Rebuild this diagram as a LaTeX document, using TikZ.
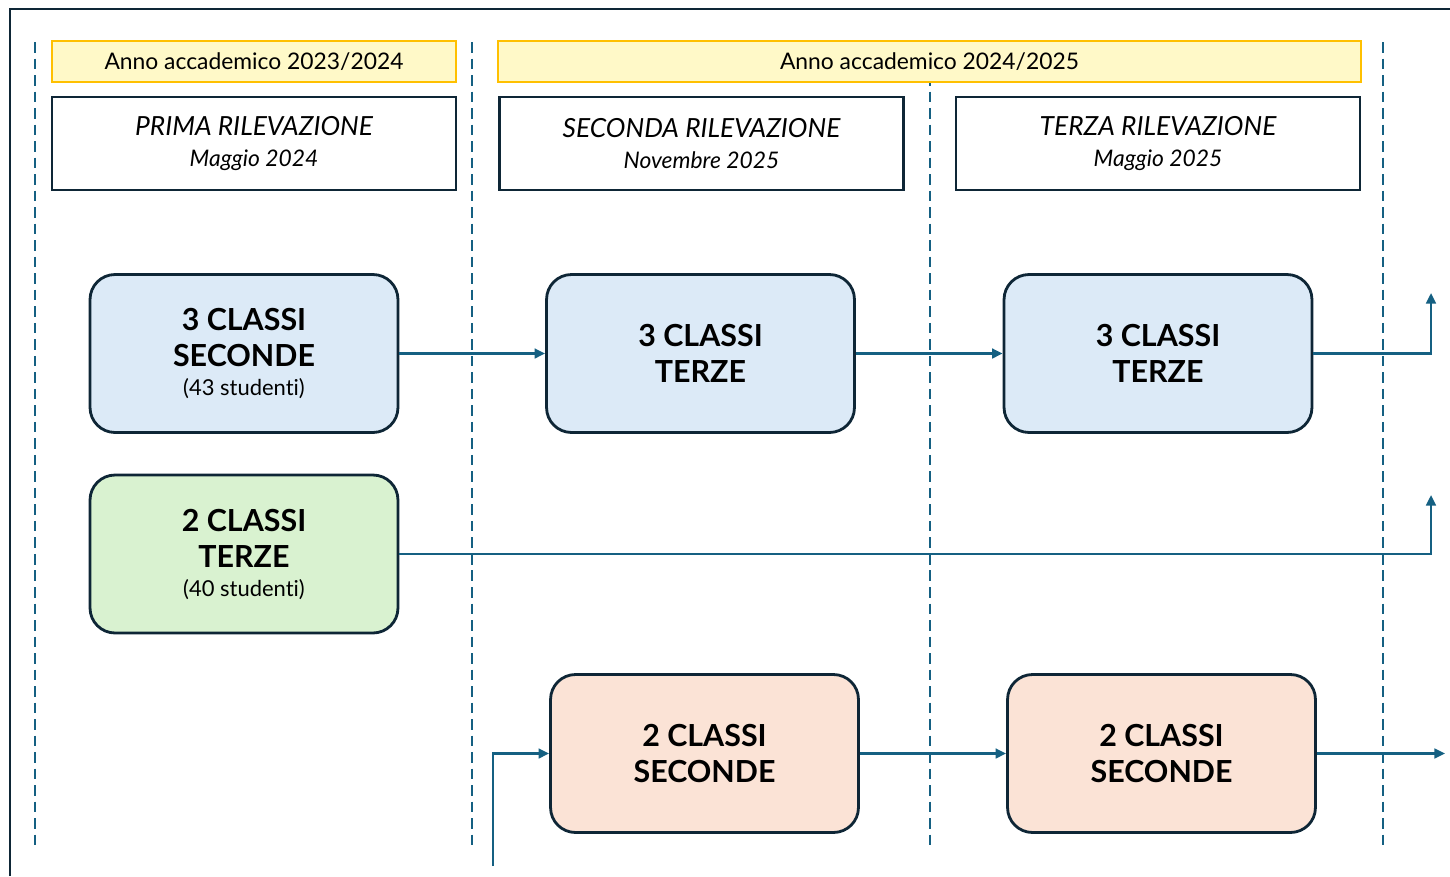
\documentclass[tikz,border=0pt]{standalone}
\usepackage{fontspec}
\setmainfont{Lato}[Ligatures=NoCommon]
\usetikzlibrary{arrows.meta}
\definecolor{flowcolor}{RGB}{21,96,130}
\definecolor{framecolor}{RGB}{14,38,54}
\definecolor{annocolor}{RGB}{255,192,0}
\definecolor{annofill}{RGB}{255,249,200}
\definecolor{bluefill}{RGB}{220,234,247}
\definecolor{greenfill}{RGB}{217,242,208}
\definecolor{peachfill}{RGB}{251,227,214}

\begin{document}
\begin{tikzpicture}[x=0.02cm,y=-0.02cm,
  yearbox/.style={draw=annocolor,fill=annofill,line width=1.4pt,minimum height=0.82cm,font=\fontsize{13}{15}\selectfont},
  headbox/.style={draw=framecolor,line width=1.6pt,minimum width=8.08cm,minimum height=1.86cm,align=center,font=\itshape\fontsize{15}{17.6}\selectfont},
  classbox/.style={draw=framecolor,rounded corners=0.5cm,line width=1.6pt,minimum width=6.16cm,minimum height=3.16cm,align=center,font=\bfseries\fontsize{17.3}{20.5}\selectfont},
  flow/.style={draw=flowcolor,line width=1.4pt,-{Triangle[length=6pt,width=5.5pt]}},
  divider/.style={draw=flowcolor,line width=1.6pt,dash pattern=on 6pt off 3.4pt}
]
  \useasboundingbox (0,0) rectangle (1450,876);
  \draw[framecolor,line width=1.6pt] (10,876) -- (10,9) -- (1450,9);
  \foreach \x in {35,472,930,1383}
    \draw[divider] (\x,42) -- (\x,850);

  % years and surveys
  \node[yearbox,minimum width=8.08cm]  (annoA) at (254,61.5)   {Anno accademico 2023/2024};
  \node[yearbox,minimum width=17.26cm] (annoB) at (929.5,61.5) {Anno accademico 2024/2025};
  \node[headbox] (rilA) at (254,143.5)    {PRIMA RILEVAZIONE\\{\fontsize{13}{15}\selectfont Maggio 2024}};
  \node[headbox] (rilB) at (701.5,143.5)  {SECONDA RILEVAZIONE\\{\fontsize{13}{15}\selectfont Novembre 2025}};
  \node[headbox] (rilC) at (1158,143.5)   {TERZA RILEVAZIONE\\{\fontsize{13}{15}\selectfont Maggio 2025}};

  % classes
  \node[classbox,fill=bluefill]  (secA) at (244,353.5)    {3 CLASSI\\SECONDE\\[-4pt]{\normalfont\fontsize{12.5}{15}\selectfont (43 studenti)}};
  \node[classbox,fill=bluefill]  (terA) at (700.5,353.5)  {3 CLASSI\\TERZE};
  \node[classbox,fill=bluefill]  (terB) at (1158,353.5)   {3 CLASSI\\TERZE};
  \node[classbox,fill=greenfill] (terC) at (244,554)      {2 CLASSI\\TERZE\\[-4pt]{\normalfont\fontsize{12.5}{15}\selectfont (40 studenti)}};
  \node[classbox,fill=peachfill] (secB) at (704.5,753.5)  {2 CLASSI\\SECONDE};
  \node[classbox,fill=peachfill] (secC) at (1161.5,753.5) {2 CLASSI\\SECONDE};

  \coordinate (upA) at (1431,293);
  \coordinate (upB) at (1431,495);
  \coordinate (inB) at (493,866);
  \coordinate (outC) at (1445,753.5);

  \draw[flow] (secA) -- (terA);
  \draw[flow] (terA) -- (terB);
  \draw[flow] (terB.east) -| (upA);
  \draw[flow] (terC.east) -| (upB);
  \draw[flow] (inB) |- (secB.west);
  \draw[flow] (secB) -- (secC);
  \draw[flow] (secC.east) -- (outC);
\end{tikzpicture}
\end{document}
